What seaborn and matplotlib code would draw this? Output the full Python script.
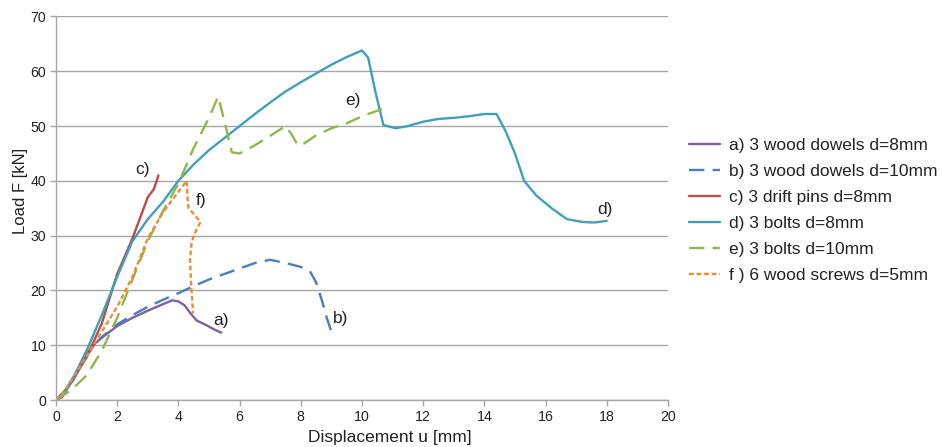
import matplotlib
matplotlib.use("Agg")
import matplotlib.pyplot as plt
import seaborn as sns
import pandas as pd

sns.set_theme(style="white")
plt.rcParams['font.family'] = ['Liberation Sans', 'DejaVu Sans']

# ---- data ----
a_x = [0, 0.3, 0.6, 1.0, 1.3, 1.6, 2.0, 2.5, 3.0, 3.5, 3.8, 4.0, 4.2, 4.4, 4.6, 4.9, 5.2, 5.4]
a_y = [0, 1.5, 4.0, 8.0, 10.5, 11.8, 13.5, 15.0, 16.3, 17.5, 18.2, 18.0, 17.3, 15.8, 14.5, 13.7, 12.8, 12.3]

b_x = [0, 0.5, 1.0, 1.5, 2.0, 2.5, 3.0, 3.5, 4.0, 4.5, 5.0, 5.5, 6.0, 6.5, 7.0, 7.5, 8.0, 8.3, 8.5, 8.7, 8.85, 9.0]
b_y = [0, 3.0, 8.5, 11.5, 13.8, 15.5, 17.0, 18.3, 19.5, 20.8, 22.0, 23.0, 24.0, 25.0, 25.6, 25.0, 24.3, 23.5, 21.5, 18.0, 15.0, 12.5]

c_x = [0, 0.2, 0.5, 1.0, 1.5, 2.0, 2.5, 2.8, 3.0, 3.2, 3.35]
c_y = [0, 0.5, 3.5, 7.8, 14.0, 23.0, 29.5, 34.0, 37.0, 38.5, 41.0]

d_x = [0, 0.3, 0.6, 1.0, 1.5, 2.0, 2.5, 3.0, 3.5, 4.0, 4.5, 5.0, 5.5, 6.0, 6.5, 7.0, 7.5, 8.0, 8.5, 9.0,
       9.5, 10.0, 10.2, 10.45, 10.7, 11.1, 11.5, 12.0, 12.5, 13.0, 13.5, 14.0, 14.4, 14.7, 15.0, 15.3,
       15.7, 16.2, 16.7, 17.2, 17.6, 18.0]
d_y = [0, 1.5, 4.5, 9.0, 15.5, 22.5, 29.0, 33.0, 36.2, 40.0, 43.0, 45.6, 47.8, 50.0, 52.2, 54.3, 56.3, 58.0, 59.6, 61.2,
       62.6, 63.8, 62.5, 56.0, 50.2, 49.6, 50.0, 50.8, 51.3, 51.5, 51.8, 52.2, 52.2, 49.0, 45.0, 40.0,
       37.3, 35.0, 33.0, 32.5, 32.4, 32.7]

e_x = [0, 0.5, 1.0, 1.5, 2.0, 2.5, 3.0, 3.5, 4.0, 4.5, 5.0, 5.3, 5.5, 5.75, 6.0, 6.5, 7.0, 7.5, 7.7, 7.9, 8.1,
       8.5, 9.0, 9.5, 10.0, 10.5, 10.9]
e_y = [0, 1.8, 4.5, 9.0, 15.0, 22.0, 29.0, 34.5, 39.5, 46.0, 51.5, 55.4, 51.0, 45.2, 45.0, 46.5, 48.2, 50.0, 48.5, 46.5, 46.8,
       48.3, 49.6, 50.5, 51.8, 52.8, 53.5]

f_x = [0, 0.3, 0.6, 1.0, 1.5, 2.0, 2.5, 3.0, 3.5, 4.0, 4.27, 4.3, 4.33, 4.5, 4.72, 4.5, 4.43, 4.38, 4.42, 4.48]
f_y = [0, 1.8, 4.5, 8.0, 12.5, 17.0, 22.5, 29.5, 34.3, 38.0, 40.0, 37.0, 35.0, 34.0, 32.5, 30.0, 28.5, 25.6, 20.7, 15.8]

labels = ["a) 3 wood dowels d=8mm", "b) 3 wood dowels d=10mm", "c) 3 drift pins d=8mm",
          "d) 3 bolts d=8mm", "e) 3 bolts d=10mm", "f ) 6 wood screws d=5mm"]
short = ["a)", "b)", "c)", "d)", "e)", "f)"]
short_pos_x = [5.13, 9.05, 2.58, 17.68, 9.44, 4.58]
short_pos_y = [14.6, 14.8, 42.0, 34.7, 54.6, 36.5]

colors = ["#7F5FA8", "#4A7EBB", "#BE4B48", "#3FA0BE", "#8EB84A", "#F28A30"]
dash_styles = [None, (6.5, 3.5), None, None, (6.5, 3.5), (2.0, 1.2)]

series = [(a_x, a_y), (b_x, b_y), (c_x, c_y), (d_x, d_y), (e_x, e_y), (f_x, f_y)]

fig = plt.figure(figsize=(9.42, 4.47), dpi=100)
ax = fig.add_axes([0.0594, 0.1051, 0.6497, 0.858])

for (xs, ys), lab, col, dsh in zip(series, labels, colors, dash_styles):
    df = pd.DataFrame({"x": xs, "y": ys})
    sns.lineplot(data=df, x="x", y="y", sort=False, estimator=None, color=col,
                 linewidth=1.7, label=lab, ax=ax)
    ln = ax.lines[-1]
    if dsh is not None:
        ln.set_dashes(dsh)

for t, px, py in zip(short, short_pos_x, short_pos_y):
    ax.text(px, py, t, fontsize=12.5, color="#222222", va="center", ha="left")

ax.set_xlim(0, 20)
ax.set_ylim(0, 70)
ax.set_xticks(range(0, 21, 2))
ax.set_yticks(range(0, 71, 10))
ax.yaxis.grid(True, color="#A6A6A6", linewidth=1.0)
ax.xaxis.grid(False)
for s in ["top", "right"]:
    ax.spines[s].set_visible(False)
for s in ["left", "bottom"]:
    ax.spines[s].set_color("#A6A6A6")
    ax.spines[s].set_linewidth(1.0)
ax.tick_params(axis="both", which="both", length=4, width=1.0, color="#A6A6A6",
               labelsize=10.2, labelcolor="#222222", direction="out", pad=3,
               bottom=True, left=True)
ax.set_xlabel("Displacement u [mm]", fontsize=12.5, color="#222222")
ax.set_ylabel("Load F [kN]", fontsize=12, color="#222222")
ax.xaxis.set_label_coords(0.546, -0.0966)
ax.xaxis.label.set_va("center")
ax.yaxis.set_label_coords(-0.058, 0.546)
ax.yaxis.label.set_va("center")

leg = ax.legend(loc="center left", bbox_to_anchor=(0.7314, 0.529), bbox_transform=fig.transFigure,
                frameon=False, fontsize=12.5, handlelength=1.8, handletextpad=0.5,
                labelspacing=0.62, borderaxespad=0, borderpad=0)
for t in leg.get_texts():
    t.set_color("#222222")

fig.savefig("out.png", dpi=100)
